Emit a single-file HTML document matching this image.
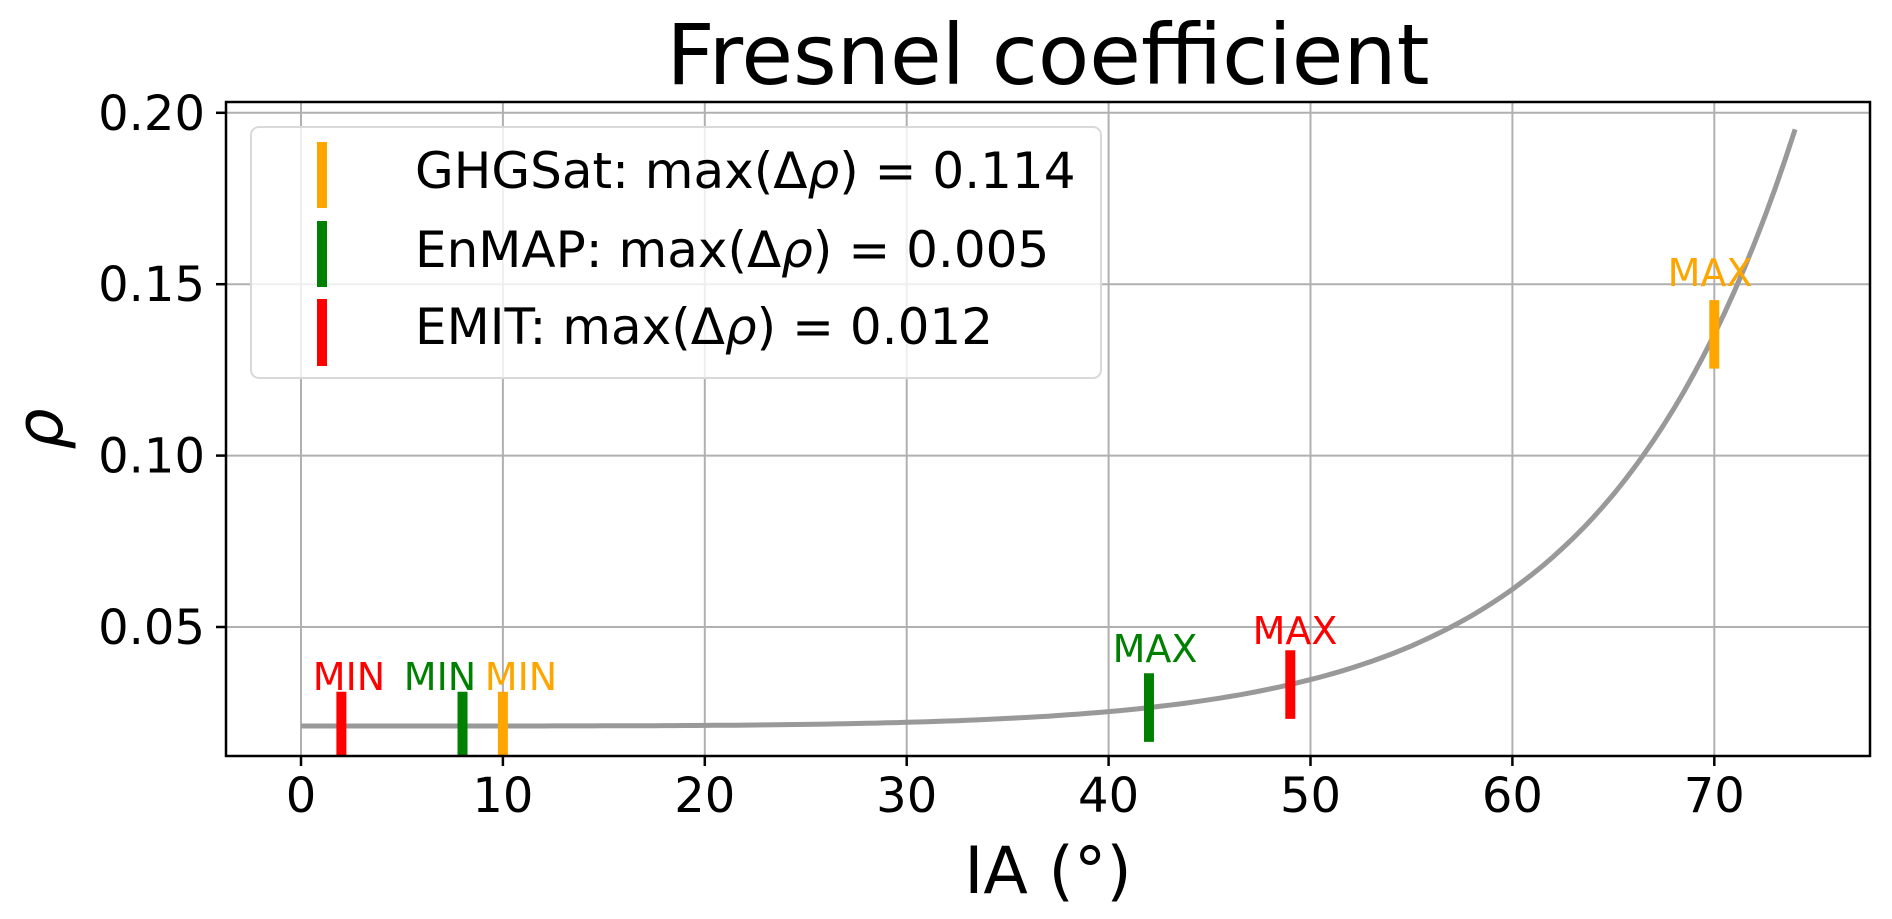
<!DOCTYPE html>
<html><head><meta charset="utf-8">
<style>
html,body{margin:0;padding:0;background:#fff;}
svg{display:block;font-family:"DejaVu Sans","Liberation Sans",sans-serif;}
</style></head>
<body>
<svg id="s" width="1892" height="919" viewBox="0 0 1892 919" xmlns="http://www.w3.org/2000/svg">
<rect width="1892" height="919" fill="#fff"/>
<g id="grid" stroke="#b0b0b0" stroke-width="2"></g>
<path id="curve" fill="none" stroke="#999999" stroke-width="5"/>
<g id="bars" stroke-width="10"></g>
<g id="labels" font-size="38" text-anchor="middle"></g>
<rect x="226" y="102" width="1644" height="654" fill="none" stroke="#000" stroke-width="2.5"/>
<g id="ticks" stroke="#000" stroke-width="2.5"></g>
<g id="ticklabels" font-size="48" fill="#000"></g>
<text x="1048" y="84" font-size="84" text-anchor="middle">Fresnel coefficient</text>
<text x="1048" y="893" font-size="65" text-anchor="middle">IA (°)</text>
<text transform="translate(62,429) rotate(-90)" font-size="65" font-style="italic" text-anchor="middle">ρ</text>
<rect x="251" y="127" width="850" height="251" rx="8" fill="#fff" fill-opacity="0.8" stroke="#d9d9d9" stroke-width="2"/>
<line x1="322" y1="142" x2="322" y2="208" stroke="#ffa500" stroke-width="10"/>
<line x1="322" y1="221" x2="322" y2="287" stroke="#008000" stroke-width="10"/>
<line x1="322" y1="299" x2="322" y2="366" stroke="#ff0000" stroke-width="10"/>
<g font-size="50">
<text x="415" y="188">GHGSat: max(Δ<tspan font-style="italic">ρ</tspan>) = 0.114</text>
<text x="415" y="267">EnMAP: max(Δ<tspan font-style="italic">ρ</tspan>) = 0.005</text>
<text x="415" y="344">EMIT: max(Δ<tspan font-style="italic">ρ</tspan>) = 0.012</text>
</g>
</svg>
<script>
(function(){
var NS="http://www.w3.org/2000/svg";
function X(v){return 301+v*20.19;}
function Y(v){return 627-(v-0.05)*3428;}
function el(p,t,a,txt){var e=document.createElementNS(NS,t);for(var k in a)e.setAttribute(k,a[k]);if(txt!==undefined)e.textContent=txt;document.getElementById(p).appendChild(e);return e;}
var n=1.34;
function R(d){var i=d*Math.PI/180,ci=Math.cos(i),st=Math.sin(i)/n,ct=Math.sqrt(1-st*st);
var rs=(ci-n*ct)/(ci+n*ct),rp=(n*ci-ct)/(n*ci+ct);return (rs*rs+rp*rp)/2;}
for(var t=0;t<=70;t+=10){el("grid","line",{x1:X(t),y1:102,x2:X(t),y2:756});
el("ticks","line",{x1:X(t),y1:756,x2:X(t),y2:766});
el("ticklabels","text",{x:X(t),y:812,"text-anchor":"middle"},String(t));}
[0.05,0.10,0.15,0.20].forEach(function(v){el("grid","line",{x1:226,y1:Y(v),x2:1870,y2:Y(v)});
el("ticks","line",{x1:216,y1:Y(v),x2:226,y2:Y(v)});
el("ticklabels","text",{x:205,y:Y(v)+17,"text-anchor":"end"},v.toFixed(2));});
var d="";for(var a=0;a<=74.001;a+=0.5){d+=(a==0?"M":"L")+X(a).toFixed(1)+","+Y(R(a)).toFixed(1);}
document.getElementById("curve").setAttribute("d",d);
var bars=[[2,"#ff0000"],[8,"#008000"],[10,"#ffa500"],[42,"#008000"],[49,"#ff0000"],[70,"#ffa500"]];
bars.forEach(function(b){var r=R(b[0]);var y1=Math.min(Y(r-0.01),756);
el("bars","line",{x1:X(b[0]),x2:X(b[0]),y1:y1,y2:Y(r+0.01),stroke:b[1]});});
var labs=[[349,690,"MIN","#ff0000"],[440,690,"MIN","#008000"],[521,690,"MIN","#ffa500"],
[1155,662,"MAX","#008000"],[1295,644,"MAX","#ff0000"],[1710,286,"MAX","#ffa500"]];
labs.forEach(function(l){el("labels","text",{x:l[0],y:l[1],fill:l[3]},l[2]);});
})();
</script>
</body></html>
